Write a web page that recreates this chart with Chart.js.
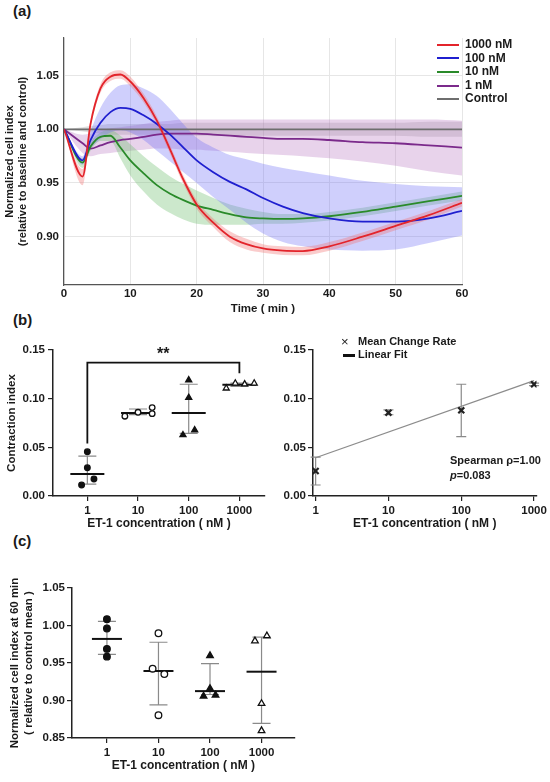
<!DOCTYPE html>
<html>
<head>
<meta charset="utf-8">
<script src="https://cdn.jsdelivr.net/npm/chart.js@4.4.1/dist/chart.umd.min.js"></script>
<style>
  body { margin: 0; width: 550px; height: 782px; position: relative; overflow: hidden; background: #fff;
         font-family: "Liberation Sans", Arial, sans-serif; color: #1a1a1a; }
  canvas { position: absolute; }
  .tag { position: absolute; font-weight: bold; font-size: 15px; }
  .note { position: absolute; font-weight: bold; font-size: 11px; white-space: nowrap; }
  #legendA { position: absolute; left: 437px; top: 38px; }
  #legendA div { height: 13.6px; line-height: 13.6px; font-size: 12px; font-weight: bold; white-space: nowrap; }
  #legendA span { display: inline-block; width: 22px; height: 2px; vertical-align: middle; margin-right: 6px; }
</style>
</head>
<body>
<div class="tag" style="left:13px;top:2px">(a)</div>
<div class="tag" style="left:13px;top:311px">(b)</div>
<div class="tag" style="left:13px;top:532px">(c)</div>

<canvas id="chartA" width="550" height="295" style="left:0;top:25px"></canvas>
<div id="legendA"></div>

<canvas id="chartB1" width="275" height="205" style="left:0;top:330px"></canvas>
<canvas id="chartB2" width="275" height="205" style="left:275px;top:330px"></canvas>
<div class="note" style="left:157px;top:345px;font-size:16px">**</div>
<div class="note" style="left:341px;top:334px;font-size:13px;font-weight:normal">×</div>
<div class="note" style="left:358px;top:335px">Mean Change Rate</div>
<div style="position:absolute;left:343px;top:354px;width:12px;height:3px;background:#111"></div>
<div class="note" style="left:358px;top:348px">Linear Fit</div>
<div class="note" style="left:450px;top:454px">Spearman ρ=1.00</div>
<div class="note" style="left:450px;top:469px"><i>p</i>=0.083</div>

<canvas id="chartC" width="300" height="222" style="left:0;top:560px"></canvas>

<script>
// ---- (a) time course ----
const timeMin = [0, 2.8, 4, 5.5, 7, 8.5, 10, 12, 14, 16, 18, 20, 22.5, 25, 27.5, 30, 33, 36, 40, 45, 50, 55, 60];
const nM1000 = [1.000, 0.956, 1.005, 1.038, 1.049, 1.051, 1.0445, 1.029, 1.008, 0.981, 0.953, 0.930, 0.913, 0.900, 0.893, 0.889, 0.887, 0.8866, 0.891, 0.900, 0.910, 0.920, 0.9315];
const nM1000Hi = [1.000, 0.963, 1.009, 1.042, 1.053, 1.055, 1.049, 1.033, 1.012, 0.985, 0.957, 0.934, 0.917, 0.905, 0.898, 0.893, 0.891, 0.8905, 0.895, 0.904, 0.914, 0.924, 0.935];
const nM1000Lo = [1.000, 0.948, 1.001, 1.034, 1.045, 1.047, 1.040, 1.025, 1.004, 0.977, 0.949, 0.926, 0.909, 0.895, 0.888, 0.885, 0.883, 0.8827, 0.887, 0.896, 0.906, 0.916, 0.928];
const nM100 = [1.000, 0.971, 0.990, 1.006, 1.016, 1.020, 1.019, 1.013, 1.005, 0.995, 0.983, 0.971, 0.960, 0.951, 0.944, 0.936, 0.928, 0.922, 0.917, 0.914, 0.914, 0.917, 0.924];
const nM100Hi = [1.000, 0.975, 0.998, 1.020, 1.034, 1.041, 1.042, 1.038, 1.031, 1.019, 1.005, 0.992, 0.983, 0.976, 0.972, 0.968, 0.964, 0.961, 0.957, 0.952, 0.949, 0.947, 0.946];
const nM100Lo = [1.000, 0.967, 0.982, 0.991, 0.997, 0.999, 0.997, 0.990, 0.980, 0.970, 0.960, 0.950, 0.937, 0.925, 0.913, 0.903, 0.895, 0.891, 0.888, 0.887, 0.888, 0.894, 0.901];
const nM10 = [1.000, 0.969, 0.984, 0.993, 0.994, 0.983, 0.971, 0.959, 0.948, 0.940, 0.934, 0.929, 0.925, 0.921, 0.918, 0.917, 0.9165, 0.917, 0.919, 0.923, 0.928, 0.933, 0.938];
const nM10Hi = [1.000, 0.973, 0.988, 0.997, 0.999, 0.994, 0.986, 0.975, 0.965, 0.956, 0.949, 0.943, 0.936, 0.930, 0.926, 0.923, 0.921, 0.921, 0.923, 0.927, 0.932, 0.937, 0.942];
const nM10Lo = [1.000, 0.964, 0.980, 0.989, 0.989, 0.973, 0.957, 0.942, 0.930, 0.922, 0.916, 0.912, 0.911, 0.911, 0.911, 0.912, 0.912, 0.913, 0.915, 0.919, 0.924, 0.929, 0.934];
const nM1 = [1.000, 0.987, 0.982, 0.985, 0.988, 0.990, 0.991, 0.993, 0.995, 0.996, 0.996, 0.996, 0.995, 0.994, 0.993, 0.992, 0.991, 0.991, 0.990, 0.988, 0.987, 0.985, 0.983];
const nM1Hi = [1.000, 0.995, 0.996, 0.999, 1.001, 1.002, 1.003, 1.005, 1.007, 1.008, 1.009, 1.009, 1.009, 1.009, 1.009, 1.009, 1.009, 1.009, 1.009, 1.009, 1.009, 1.009, 1.008];
const nM1Lo = [1.000, 0.978, 0.975, 0.977, 0.978, 0.979, 0.980, 0.981, 0.982, 0.982, 0.981, 0.981, 0.980, 0.979, 0.978, 0.977, 0.976, 0.975, 0.973, 0.970, 0.966, 0.961, 0.957];
const ctrl = [1, 1, 1, 1, 1, 1, 1, 1, 1, 1, 1, 1, 1, 1, 1, 1, 1, 1, 1, 1, 1, 1, 1];
const ctrlHi = [1.000, 1.002, 1.003, 1.004, 1.005, 1.005, 1.005, 1.005, 1.005, 1.005, 1.006, 1.006, 1.006, 1.006, 1.006, 1.006, 1.006, 1.006, 1.006, 1.006, 1.006, 1.007, 1.007];
const ctrlLo = [1.000, 0.998, 0.997, 0.996, 0.995, 0.995, 0.995, 0.995, 0.995, 0.995, 0.994, 0.994, 0.994, 0.994, 0.994, 0.994, 0.994, 0.994, 0.994, 0.994, 0.994, 0.993, 0.993];
const seriesNames = ['1000 nM', '100 nM', '10 nM', '1 nM', 'Control'];
const yTicksA = [0.90, 0.95, 1.00, 1.05];

// ---- (b) contraction index ----
const conc = [1, 10, 100, 1000];
const ci1X = [1, 1, 1.35, 0.77],        ci1Y = [0.0455, 0.029, 0.0175, 0.0113];
const ci10X = [5.5, 10, 19, 19],        ci10Y = [0.082, 0.086, 0.0908, 0.0846];
const ci100X = [100, 100, 131, 77],     ci100Y = [0.119, 0.101, 0.0678, 0.0627];
const ci1000X = [550, 830, 1270, 1960], ci1000Y = [0.1107, 0.1158, 0.115, 0.1158];
const ciMean = [0.0226, 0.0853, 0.0853, 0.1143];
const ciHi = [0.041, 0.0894, 0.1148, 0.1160];
const ciLo = [0.0123, 0.0836, 0.0644, 0.1125];
const bracketX = [1, 1, 1000, 1000], bracketY = [0.054, 0.137, 0.137, 0.126];

const rateMean = [0.0257, 0.0856, 0.088, 0.1148];
const rateHi = [0.040, 0.0885, 0.1148, 0.1160];
const rateLo = [0.0113, 0.0835, 0.061, 0.1135];
const fitX = [1, 1000], fitY = [0.0393, 0.1185];

// ---- (c) cell index at 60 min ----
const ni1X = [1, 1, 1, 1],             ni1Y = [1.0085, 0.996, 0.9688, 0.9585];
const ni10X = [10, 7.7, 13, 10],        ni10Y = [0.9897, 0.9424, 0.9353, 0.8804];
const ni100X = [100, 100, 75, 128],     ni100Y = [0.9598, 0.916, 0.9058, 0.9071];
const ni1000X = [745, 1270, 1000, 1000], ni1000Y = [0.9795, 0.9862, 0.896, 0.8598];
const niMean = [0.9821, 0.9393, 0.9125, 0.9384];
const niHi = [1.0054, 0.9777, 0.9491, 0.9844];
const niLo = [0.9616, 0.8942, 0.908, 0.8696];

const FONT = '"Liberation Sans", Arial, sans-serif';
Chart.defaults.font.family = FONT;
Chart.defaults.font.weight = 'bold';
Chart.defaults.color = '#1a1a1a';
Chart.defaults.animation = false;

const pts = (xs, ys) => xs.map((x, i) => ({ x, y: ys[i] }));
const fixW = w => s => { s.width = w; };
const fixH = h => s => { s.height = h; };
const logTicks = s => { s.ticks = conc.map(v => ({ value: v })); };
const basePlugins = { legend: { display: false }, tooltip: { enabled: false } };

// error bars + mean line per group, drawn under the points
function groupMarks(id, xs, mean, hi, lo, cap, half) {
  return {
    id,
    beforeDatasetsDraw(chart) {
      const { ctx, scales: { x, y } } = chart;
      ctx.save();
      xs.forEach((v, i) => {
        const px = x.getPixelForValue(v);
        const t = y.getPixelForValue(hi[i]), b = y.getPixelForValue(lo[i]);
        ctx.strokeStyle = '#8a8a8a';
        ctx.lineWidth = 1.2;
        ctx.beginPath();
        ctx.moveTo(px, t); ctx.lineTo(px, b);
        ctx.moveTo(px - cap, t); ctx.lineTo(px + cap, t);
        ctx.moveTo(px - cap, b); ctx.lineTo(px + cap, b);
        ctx.stroke();
        if (half) {
          const py = y.getPixelForValue(mean[i]);
          ctx.strokeStyle = '#111';
          ctx.lineWidth = 2;
          ctx.beginPath();
          ctx.moveTo(px - half, py); ctx.lineTo(px + half, py);
          ctx.stroke();
        }
      });
      ctx.restore();
    }
  };
}

// ---- chart (a) ----
const lineColors = ['#e3242b', '#1f1fcf', '#2a8a2a', '#7b2a8b', '#6e6e6e'];
const bandColors = ['rgba(240,110,110,0.35)', 'rgba(110,110,245,0.33)', 'rgba(110,190,110,0.35)',
                    'rgba(185,120,195,0.33)', 'rgba(140,140,140,0.28)'];
const mids = [nM1000, nM100, nM10, nM1, ctrl];
const his = [nM1000Hi, nM100Hi, nM10Hi, nM1Hi, ctrlHi];
const los = [nM1000Lo, nM100Lo, nM10Lo, nM1Lo, ctrlLo];

const dsA = [];
mids.forEach((m, i) => dsA.push({
  label: seriesNames[i], data: pts(timeMin, m), borderColor: lineColors[i], borderWidth: 1.8,
  pointRadius: 0, cubicInterpolationMode: 'monotone', fill: false, order: 1
}));
his.forEach((h, i) => {
  dsA.push({ data: pts(timeMin, h), borderWidth: 0, pointRadius: 0, cubicInterpolationMode: 'monotone',
             backgroundColor: bandColors[i], fill: '+1', order: 2 });
  dsA.push({ data: pts(timeMin, los[i]), borderWidth: 0, pointRadius: 0, cubicInterpolationMode: 'monotone',
             fill: false, order: 2 });
});

new Chart(document.getElementById('chartA'), {
  type: 'line',
  data: { datasets: dsA },
  options: {
    responsive: false,
    layout: { padding: { left: 2, top: 13, right: 88, bottom: 3 } },
    plugins: basePlugins,
    scales: {
      x: {
        type: 'linear', min: 0, max: 60,
        afterFit: fixH(32),
        ticks: { stepSize: 10, padding: 2, font: { size: 11.5 } },
        grid: { color: '#e6e6e6', drawTicks: false },
        border: { color: '#555', width: 1.2 },
        title: { display: true, text: 'Time ( min )', font: { size: 11.5 }, padding: { top: 0, bottom: 1 } }
      },
      y: {
        min: 0.855, max: 1.085,
        afterFit: fixW(62),
        afterBuildTicks: s => { s.ticks = yTicksA.map(v => ({ value: v })); },
        ticks: { padding: 5, font: { size: 11.5 }, callback: v => v.toFixed(2) },
        grid: { color: '#e6e6e6', drawTicks: false },
        border: { color: '#555', width: 1.2 },
        title: { display: true, text: ['Normalized cell index', '(relative to baseline and control)'],
                 font: { size: 11 }, padding: { top: 1 } }
      }
    }
  }
});

const legendA = document.getElementById('legendA');
seriesNames.forEach((n, i) => {
  const row = document.createElement('div');
  row.innerHTML = '<span style="background:' + lineColors[i] + '"></span>' + n;
  legendA.appendChild(row);
});

// shared axis styling for (b) and (c)
const axisGrid = { drawOnChartArea: false, drawTicks: true, tickLength: 5, color: '#222', lineWidth: 1.2 };
const axisBorder = { color: '#222', width: 1.5 };
const concTitle = { display: true, text: 'ET-1 concentration ( nM )', font: { size: 12 }, padding: { top: 0, bottom: 1 } };
const markerSets = [
  { style: 'circle', fill: '#111', r: 2.8 },
  { style: 'circle', fill: '#fff', r: 2.8 },
  { style: 'triangle', fill: '#111', r: 3.5 },
  { style: 'triangle', fill: '#fff', r: 3.5 }
];
const scatterSet = (data, k, grow) => ({
  data, showLine: false, pointStyle: markerSets[k].style, pointRadius: markerSets[k].r + (grow || 0),
  pointBackgroundColor: markerSets[k].fill, pointBorderColor: '#111', pointBorderWidth: 1.3
});

// ---- chart (b) left ----
new Chart(document.getElementById('chartB1'), {
  type: 'scatter',
  data: {
    datasets: [
      scatterSet(pts(ci1X, ci1Y), 0),
      scatterSet(pts(ci10X, ci10Y), 1),
      scatterSet(pts(ci100X, ci100Y), 2),
      scatterSet(pts(ci1000X, ci1000Y), 3),
      { data: pts(bracketX, bracketY), showLine: true, borderColor: '#111', borderWidth: 1.8, pointRadius: 0 }
    ]
  },
  options: {
    responsive: false,
    layout: { padding: { left: 2, top: 20, right: 10, bottom: 3 } },
    plugins: basePlugins,
    scales: {
      x: {
        type: 'logarithmic', min: 0.21, max: 3200,
        afterFit: fixH(36), afterBuildTicks: logTicks,
        ticks: { padding: 3, font: { size: 11.5 }, callback: v => String(v) },
        grid: axisGrid, border: axisBorder, title: concTitle
      },
      y: {
        min: 0, max: 0.15,
        afterFit: fixW(51),
        ticks: { stepSize: 0.05, padding: 3, font: { size: 11.5 }, callback: v => v.toFixed(2) },
        grid: axisGrid, border: axisBorder,
        title: { display: true, text: 'Contraction index', font: { size: 11.5 }, padding: { top: 3 } }
      }
    }
  },
  plugins: [groupMarks('marksB1', conc, ciMean, ciHi, ciLo, 9, 17)]
});

// ---- chart (b) right ----
new Chart(document.getElementById('chartB2'), {
  type: 'scatter',
  data: {
    datasets: [
      { data: pts(conc, rateMean), showLine: false, pointStyle: 'crossRot', pointRadius: 4.2,
        pointBorderColor: '#222', pointBorderWidth: 2.2 },
      { data: pts(fitX, fitY), showLine: true, borderColor: '#8c8c8c', borderWidth: 1.3, pointRadius: 0 }
    ]
  },
  options: {
    responsive: false,
    layout: { padding: { left: 2, top: 20, right: 13, bottom: 3 } },
    plugins: basePlugins,
    scales: {
      x: {
        type: 'logarithmic', min: 0.92, max: 1080,
        afterFit: fixH(36), afterBuildTicks: logTicks,
        ticks: { padding: 3, font: { size: 11.5 }, callback: v => String(v) },
        grid: axisGrid, border: axisBorder, title: concTitle
      },
      y: {
        min: 0, max: 0.15,
        afterFit: fixW(36),
        ticks: { stepSize: 0.05, padding: 2, font: { size: 11.5 }, callback: v => v.toFixed(2) },
        grid: axisGrid, border: axisBorder
      }
    }
  },
  plugins: [groupMarks('marksB2', conc, rateMean, rateHi, rateLo, 5, 0)]
});

// ---- chart (c) ----
new Chart(document.getElementById('chartC'), {
  type: 'scatter',
  data: {
    datasets: [
      scatterSet(pts(ni1X, ni1Y), 0, 0.5),
      scatterSet(pts(ni10X, ni10Y), 1, 0.5),
      scatterSet(pts(ni100X, ni100Y), 2, 0.3),
      scatterSet(pts(ni1000X, ni1000Y), 3, 0.3)
    ]
  },
  options: {
    responsive: false,
    layout: { padding: { left: 2, top: 28, right: 2, bottom: 8 } },
    plugins: basePlugins,
    scales: {
      x: {
        type: 'logarithmic', min: 0.21, max: 4400,
        afterFit: fixH(36), afterBuildTicks: logTicks,
        ticks: { padding: 3, font: { size: 11.5 }, callback: v => String(v) },
        grid: axisGrid, border: axisBorder, title: concTitle
      },
      y: {
        min: 0.85, max: 1.05,
        afterFit: fixW(70),
        ticks: { stepSize: 0.05, padding: 2, font: { size: 11.5 }, callback: v => v.toFixed(2) },
        grid: axisGrid, border: axisBorder,
        title: { display: true, text: ['Normalized cell index at 60 min', '( relative to control mean )'],
                 font: { size: 11.5 }, padding: { top: 6 } }
      }
    }
  },
  plugins: [groupMarks('marksC', conc, niMean, niHi, niLo, 9, 15)]
});
</script>
</body>
</html>
